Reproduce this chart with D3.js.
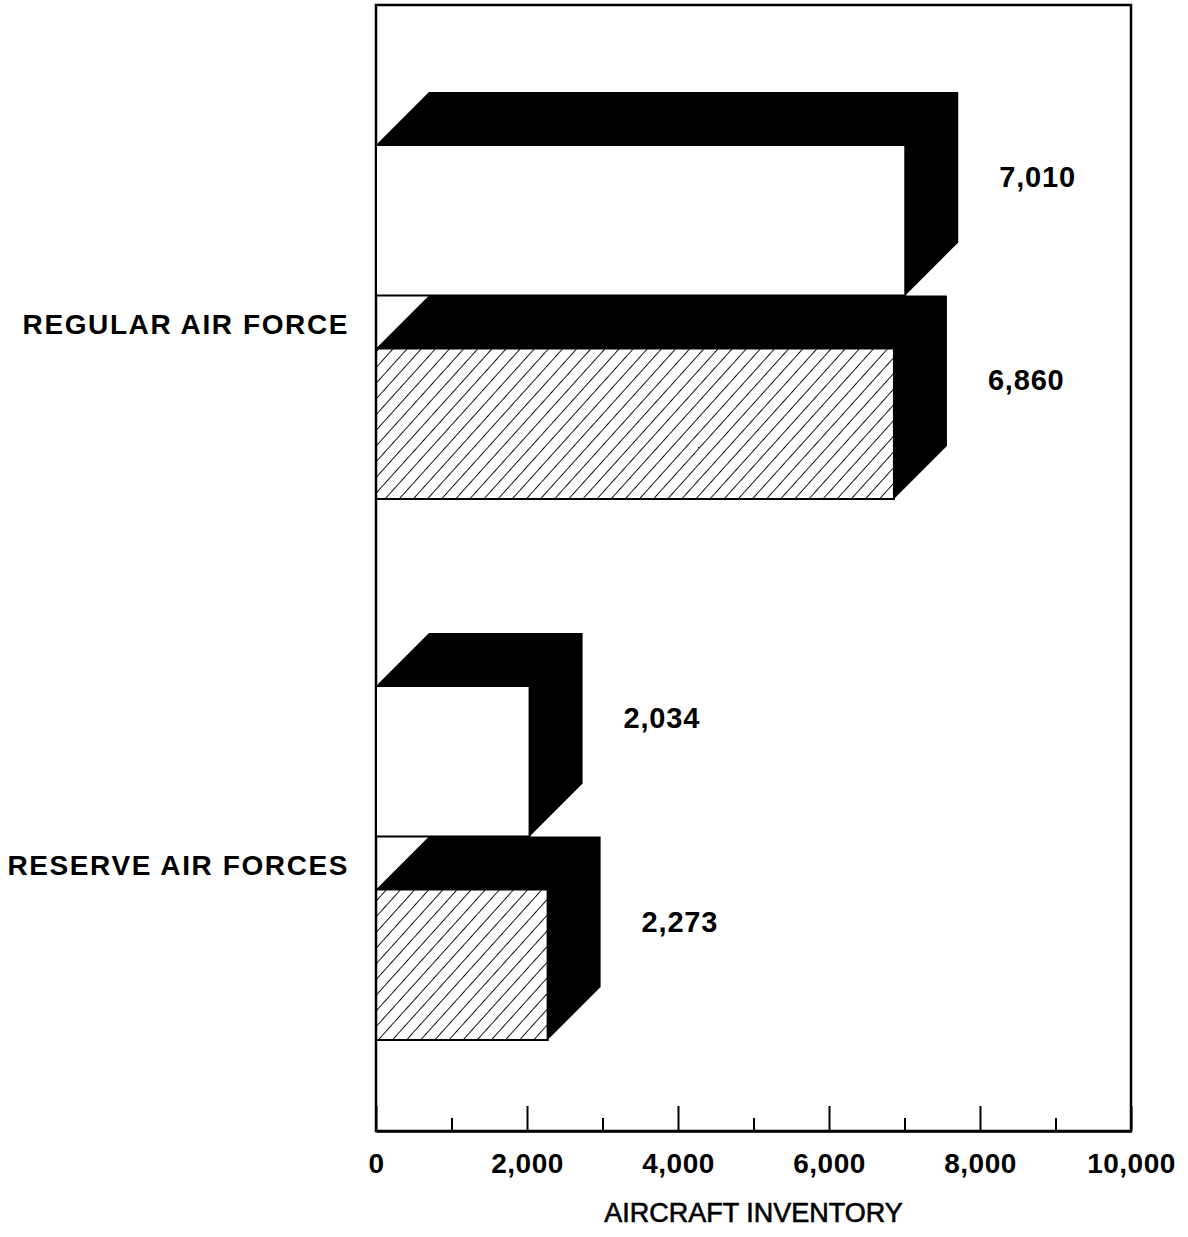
<!DOCTYPE html>
<html>
<head>
<meta charset="utf-8">
<script src="https://cdn.jsdelivr.net/npm/d3@7"></script>
<style>
	body { margin: 0; background: #fff; }
	text { font-family: "Liberation Sans", Arial, Helvetica, sans-serif; fill: #000; }
</style>
</head>
<body>
<div id="graph"></div>
<script>
const categories = ["REGULAR AIR FORCE", "RESERVE AIR FORCES"];
const plainValues = [7010, 2034];
const hatchedValues = [6860, 2273];
const majorTicks = [0, 2000, 4000, 6000, 8000, 10000];
const minorTicks = [1000, 3000, 5000, 7000, 9000];
const xLabel = "AIRCRAFT INVENTORY";

const width = 1188;
const height = 1237;
const depth = 53;

const xScale = d3.scaleLinear([0, 10000], [376, 1131]);
const yScale = d3.scaleBand(categories, [92, 1040]).paddingInner(0.2477);
const series = ["plain", "hatched"];
const ySub = d3.scaleBand(series, [0, yScale.bandwidth()]);

const rows = [];
categories.forEach((c, i) => {
	rows.push({ cat: c, key: "plain", value: plainValues[i] });
	rows.push({ cat: c, key: "hatched", value: hatchedValues[i] });
});

const svg = d3
	.select("#graph")
	.append("svg")
	.attr("width", width)
	.attr("height", height)
	.attr("viewBox", [0, 0, width, height]);

svg
	.append("defs")
	.append("pattern")
	.attr("id", "hatch")
	.attr("patternUnits", "userSpaceOnUse")
	.attr("width", 10.5)
	.attr("height", 10.5)
	.attr("patternTransform", "rotate(42)")
	.append("line")
	.attr("x1", 0)
	.attr("y1", 0)
	.attr("x2", 0)
	.attr("y2", 10.5)
	.attr("stroke", "#000")
	.attr("stroke-width", 1.8);

// frame
svg
	.append("rect")
	.attr("x", xScale(0))
	.attr("y", 5)
	.attr("width", xScale(10000) - xScale(0))
	.attr("height", 1131 - 5)
	.attr("fill", "none")
	.attr("stroke", "#000")
	.attr("stroke-width", 2.5);

// 3d bars
const bar = svg
	.append("g")
	.selectAll("g")
	.data(rows)
	.join("g");

bar
	.append("path")
	.attr("fill", "#000")
	.attr("d", (d) => {
		const x0 = xScale(0);
		const x1 = xScale(d.value);
		const yt = yScale(d.cat) + ySub(d.key);
		const yf = yt + depth;
		const yb = yt + ySub.bandwidth();
		return `M${x0},${yf}L${x0 + depth},${yt}L${x1 + depth},${yt}L${x1 + depth},${yb - depth}L${x1},${yb}L${x1},${yf}Z`;
	});

bar
	.append("rect")
	.attr("x", xScale(0))
	.attr("y", (d) => yScale(d.cat) + ySub(d.key) + depth)
	.attr("width", (d) => xScale(d.value) - xScale(0))
	.attr("height", ySub.bandwidth() - depth)
	.attr("fill", (d) => (d.key === "hatched" ? "url(#hatch)" : "#fff"))
	.attr("stroke", "#000")
	.attr("stroke-width", 2);

bar
	.append("text")
	.attr("x", (d) => xScale(d.value) + depth + 41)
	.attr("y", (d) => yScale(d.cat) + ySub(d.key) + 95)
	.attr("font-size", 29)
	.attr("font-weight", "bold")
	.attr("letter-spacing", 0.8)
	.text((d) => d3.format(",")(d.value));

// category labels
svg
	.append("g")
	.selectAll("text")
	.data(categories)
	.join("text")
	.attr("x", 349)
	.attr("y", (d) => yScale(d) + depth + (yScale.bandwidth() - depth) / 2 + 12)
	.attr("text-anchor", "end")
	.attr("font-size", 28)
	.attr("font-weight", "bold")
	.attr("letter-spacing", 1.6)
	.text((d) => d);

// axis: major ticks with labels, minor ticks without
svg
	.append("g")
	.attr("transform", "translate(0,1131)")
	.call(
		d3
			.axisBottom(xScale)
			.tickValues(majorTicks)
			.tickFormat(d3.format(","))
			.tickSizeInner(-25)
			.tickSizeOuter(0)
			.tickPadding(22)
	)
	.call((g) => g.select(".domain").attr("stroke-width", 2.5))
	.call((g) => g.selectAll(".tick line").attr("stroke-width", 2))
	.call((g) =>
		g
			.selectAll(".tick text")
			.attr("font-size", 28)
			.attr("font-weight", "bold")
			.attr("letter-spacing", 0.5)
			.attr("font-family", null)
	);

svg
	.append("g")
	.attr("transform", "translate(0,1131)")
	.call(d3.axisBottom(xScale).tickValues(minorTicks).tickFormat("").tickSizeInner(-13).tickSizeOuter(0))
	.call((g) => g.select(".domain").remove())
	.call((g) => g.selectAll(".tick line").attr("stroke-width", 2));

svg
	.append("text")
	.attr("x", (xScale(0) + xScale(10000)) / 2)
	.attr("y", 1222)
	.attr("text-anchor", "middle")
	.attr("font-size", 27)
	.attr("stroke", "#000")
	.attr("stroke-width", 0.6)
	.text(xLabel);
</script>
</body>
</html>
